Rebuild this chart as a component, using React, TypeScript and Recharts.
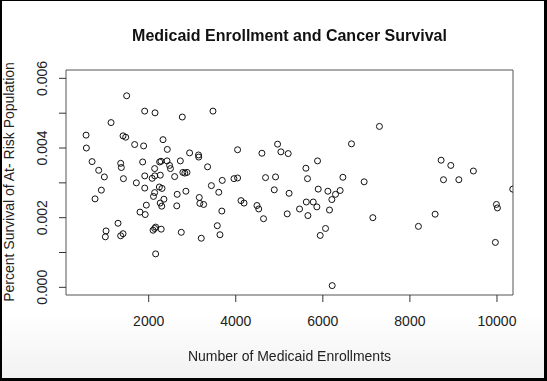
import { ScatterChart, Scatter, XAxis, YAxis, ReferenceArea } from 'recharts';

// enrollments and survival share the same order (one entry per county)
const enrollments = [
  1494, 1908, 2146, 2772, 3477, 1136, 562, 1411, 1472, 569,
  1678, 1884, 2329, 2428, 700, 1357, 1372, 1862, 2252, 2283,
  2421, 2480, 2500, 2727, 2940, 3145, 3150, 3353, 852, 982,
  1420, 1910, 2137, 2080, 2140, 2267, 2596, 2785, 2830, 2880,
  913, 768, 1717, 1910, 2245, 2306, 2137, 2110, 2350, 2265,
  2300, 1946, 2655, 2855, 2645, 3162, 3175, 3262, 3440, 3610,
  3680, 3690, 1800, 1920, 1296, 1021, 1005, 1357, 1411, 2137,
  2160, 2288, 2100, 2749, 3208, 3576, 3637, 2160,
  7300, 4042, 4601, 4960, 5037, 5205, 6658, 5878, 5611, 5648,
  3959, 4042, 4684, 4914, 4885, 5225, 5894, 6116, 6461, 6949,
  6398, 6291, 6207, 4120, 4190, 4487, 4528, 4638, 5182, 5465,
  5620, 5779, 5863, 5657, 6153, 6062, 5940, 7149, 6215,
  8717, 8939, 9458, 8771, 9124, 10362, 9987, 10010, 8579, 8196, 9963,
];

const survival = [
  0.0055, 0.00506, 0.00501, 0.00489, 0.00506, 0.00473, 0.00437, 0.00435, 0.00431, 0.004,
  0.0041, 0.00406, 0.00424, 0.00396, 0.00361, 0.00356, 0.00344, 0.0036, 0.0036, 0.00362,
  0.00363, 0.0035, 0.00341, 0.00363, 0.00386, 0.0038, 0.00374, 0.00346, 0.00336, 0.00317,
  0.00312, 0.0032, 0.00341, 0.00313, 0.0032, 0.00322, 0.00318, 0.0033, 0.00328, 0.0033,
  0.00279, 0.00254, 0.003, 0.00285, 0.00288, 0.00284, 0.00272, 0.00261, 0.00253, 0.00242,
  0.00233, 0.00236, 0.00267, 0.00276, 0.00234, 0.00258, 0.00241, 0.00238, 0.00292, 0.00273,
  0.00219, 0.00307, 0.00216, 0.00209, 0.00184, 0.00162, 0.00145, 0.00148, 0.00154, 0.00169,
  0.00173, 0.00167, 0.00164, 0.00158, 0.00141, 0.00177, 0.00151, 0.00096,
  0.00462, 0.00395, 0.00385, 0.00411, 0.00389, 0.00384, 0.00412, 0.00363, 0.00342, 0.00312,
  0.00312, 0.00314, 0.00315, 0.00317, 0.0028, 0.0027, 0.00282, 0.00276, 0.00316, 0.00303,
  0.00278, 0.00267, 0.00252, 0.00249, 0.00242, 0.00235, 0.00225, 0.00197, 0.00211, 0.00225,
  0.00245, 0.00245, 0.00231, 0.00206, 0.00222, 0.00169, 0.00149, 0.002, 0.00005,
  0.00365, 0.0035, 0.00334, 0.00309, 0.00309, 0.00282, 0.00238, 0.00228, 0.0021, 0.00175, 0.00129,
];

const xTicks = [2000, 4000, 6000, 8000, 10000];
const yTicks = [0, 0.001, 0.002, 0.003, 0.004, 0.005, 0.006];

const X_MIN = 101;
const X_MAX = 10368;
const Y_MIN = -0.00022;
const Y_MAX = 0.00624;

const points = enrollments.map((x, i) => ({ x, y: survival[i] }));

const FONT = '"Liberation Sans", Arial, Helvetica, sans-serif';

// plot frame sits at margin.left + yAxis width
const MARGIN = { top: 70, right: 34, bottom: 36, left: 16 };
const Y_AXIS_W = 50;
const PLOT_LEFT = MARGIN.left + Y_AXIS_W;
const Y_LABEL_X = PLOT_LEFT - 19;

const XTick = (props: any) => {
  const { x, y, payload } = props;
  return (
    <text x={x} y={y} dy="0.71em" textAnchor="middle" fontSize={14} fill="#222">
      {payload.value}
    </text>
  );
};

const YTick = (props: any) => {
  const { y, payload } = props;
  const v = payload.value as number;
  if (Math.round(v * 1000) % 2 !== 0) return <g />;
  return (
    <text
      x={Y_LABEL_X}
      y={y}
      transform={`rotate(-90, ${Y_LABEL_X}, ${y})`}
      textAnchor="middle"
      fontSize={14}
      fill="#222"
    >
      {v.toFixed(3)}
    </text>
  );
};

const Ring = (props: any) => (
  <circle cx={props.cx} cy={props.cy} r={3} fill="none" stroke="#111" strokeWidth={1} />
);

export default function App() {
  return (
    <div
      style={{
        position: 'fixed',
        left: 0,
        top: 0,
        width: 547,
        height: 381,
        fontFamily: FONT,
        background: 'linear-gradient(to bottom, #ffffff 82%, #f1f1f1 100%)',
      }}
    >
      <div style={{ position: 'absolute', left: 0, top: 0 }}>
        <ScatterChart width={547} height={381} margin={MARGIN}>
          <XAxis
            type="number"
            dataKey="x"
            domain={[X_MIN, X_MAX]}
            ticks={xTicks}
            allowDataOverflow
            axisLine={false}
            tickSize={7}
            tickMargin={14}
            tickLine={{ stroke: '#333' }}
            tick={<XTick />}
            height={50}
          />
          <YAxis
            type="number"
            dataKey="y"
            domain={[Y_MIN, Y_MAX]}
            ticks={yTicks}
            allowDataOverflow
            axisLine={false}
            tickSize={7}
            tickMargin={12}
            tickLine={{ stroke: '#333' }}
            tick={<YTick />}
            width={Y_AXIS_W}
          />
          <ReferenceArea
            x1={X_MIN}
            x2={X_MAX}
            y1={Y_MIN}
            y2={Y_MAX}
            fill="none"
            stroke="#555"
            strokeWidth={1}
            ifOverflow="visible"
          />
          <Scatter data={points} shape={<Ring />} isAnimationActive={false} />
        </ScatterChart>
      </div>
      <div
        style={{
          position: 'absolute',
          left: 0,
          width: 579,
          top: 27,
          textAlign: 'center',
          fontWeight: 'bold',
          fontSize: 16,
          color: '#111',
        }}
      >
        Medicaid Enrollment and Cancer Survival
      </div>
      <div
        style={{
          position: 'absolute',
          left: 0,
          width: 579,
          top: 348,
          textAlign: 'center',
          fontSize: 14,
          color: '#222',
        }}
      >
        Number of Medicaid Enrollments
      </div>
      <div
        style={{
          position: 'absolute',
          left: 9,
          top: 182,
          width: 0,
          height: 0,
        }}
      >
        <div
          style={{
            position: 'absolute',
            left: 0,
            top: 0,
            transform: 'translate(-50%, -50%) rotate(-90deg)',
            whiteSpace: 'nowrap',
            fontSize: 14,
            lineHeight: '16px',
            color: '#222',
          }}
        >
          Percent Survival of At- Risk Population
        </div>
      </div>
      <div
        style={{
          position: 'absolute',
          inset: 0,
          borderTop: '1px solid #000',
          borderLeft: '2px solid #000',
          borderRight: '3px solid #000',
          borderBottom: '3px solid #000',
          pointerEvents: 'none',
        }}
      />
    </div>
  );
}
